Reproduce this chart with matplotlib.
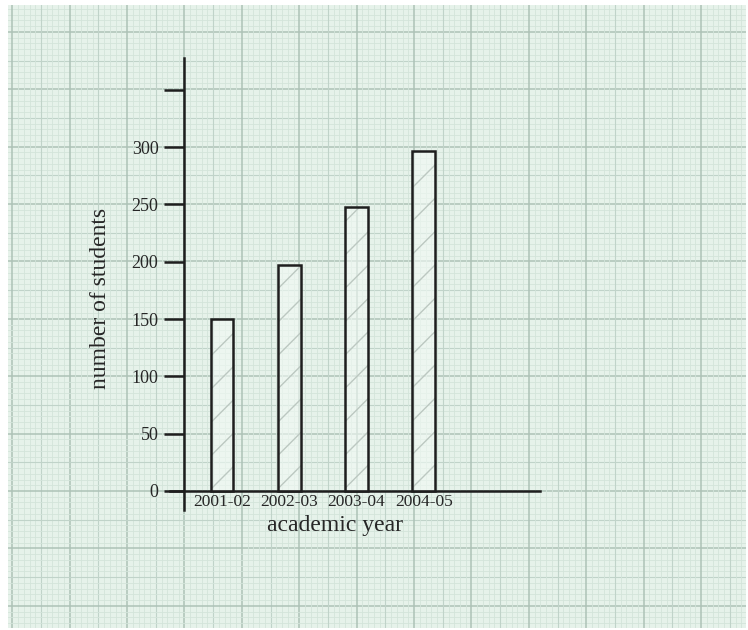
import numpy as np
import matplotlib
matplotlib.use("Agg")
import matplotlib.pyplot as plt
from matplotlib.patches import Rectangle

# ---- data ----
years = ["2001-02", "2002-03", "2003-04", "2004-05"]
students = [150, 197, 248, 297]
ytick_values = [0, 50, 100, 150, 200, 250, 300, 350]
ytick_labels = ["0", "50", "100", "150", "200", "250", "300", ""]

W, H = 748, 630
fig = plt.figure(figsize=(W / 100, H / 100), dpi=100)
fig.patch.set_facecolor("white")

# ---- graph-paper background (pixel coordinates) ----
bg = fig.add_axes([0, 0, 1, 1])
bg.set_xlim(0, W)
bg.set_ylim(H, 0)
bg.axis("off")
px0, py0, px1, py1 = 8, 5, 746, 628
bg.add_patch(Rectangle((px0, py0), px1 - px0, py1 - py0,
                       facecolor="#e6f2ea", edgecolor="none", zorder=0))
major = 57.4
minor = major / 10
ax0, ay0 = 184.5, 491.0
clip = Rectangle((px0, py0), px1 - px0, py1 - py0, transform=bg.transData)
for k in range(-400, 400):
    x = ax0 + k * minor
    if k % 10 == 0:
        c, lw = "#adc2b7", 1.1
    elif k % 5 == 0:
        c, lw = "#c0d3c9", 0.8
    else:
        c, lw = "#d3e4da", 0.6
    if px0 <= x <= px1:
        l = bg.plot([x, x], [py0, py1], color=c, lw=lw, zorder=1)[0]
        l.set_clip_path(clip)
    y = ay0 + k * minor
    if py0 <= y <= py1:
        l = bg.plot([px0, px1], [y, y], color=c, lw=lw, zorder=1)[0]
        l.set_clip_path(clip)

# ---- chart axes ----
ax = fig.add_axes([170 / W, 1 - 510 / H, 370 / W, 452 / H])
ax.patch.set_alpha(0)
x = np.arange(len(years))
ax.set_xlim(-0.773, 4.725)
ax.set_ylim(-16.6, 377.8)

# hatch fill (light grey), then black outline
ax.bar(x, students, width=0.34, facecolor=(0.95, 0.98, 0.96, 0.6),
       edgecolor="#bcc8c1", linewidth=0, hatch="/", zorder=3)
ax.bar(x, students, width=0.34, fill=False,
       edgecolor="#1e1e1e", linewidth=1.8, zorder=4)

for s in ["top", "right"]:
    ax.spines[s].set_visible(False)
ax.spines["left"].set_position(("data", -0.565))
ax.spines["bottom"].set_position(("data", 0))
for s in ["left", "bottom"]:
    ax.spines[s].set_linewidth(1.8)
    ax.spines[s].set_color("#1e1e1e")

serif = "Liberation Serif"
ax.set_yticks(ytick_values)
ax.set_yticklabels(ytick_labels, fontfamily=serif, fontsize=13, color="#262626")
ax.tick_params(axis="y", length=14.4, width=1.8, color="#1e1e1e", pad=4)
ax.set_xticks(x)
ax.set_xticklabels(years, fontfamily=serif, fontsize=12.5, color="#262626")
ax.tick_params(axis="x", length=0, pad=2)

fig.text(335 / W, 1 - 525 / H, "academic year", fontfamily=serif,
         fontsize=17, color="#262626", ha="center", va="center")
fig.text(100 / W, 1 - 298 / H, "number of students", fontfamily=serif,
         fontsize=17, color="#262626", ha="center", va="center", rotation=90)

fig.savefig("out.png", dpi=100)
